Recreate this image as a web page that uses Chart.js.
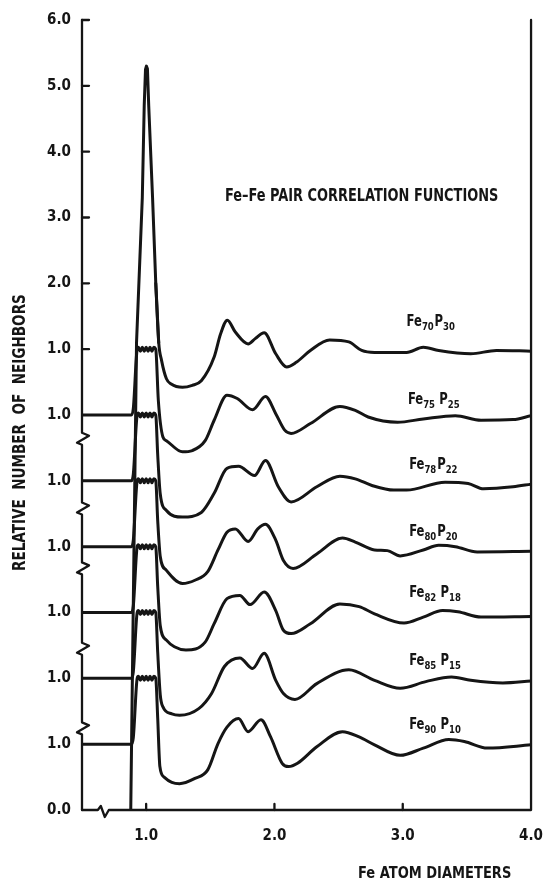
<!DOCTYPE html>
<html>
<head>
<meta charset="utf-8">
<script src="https://cdn.jsdelivr.net/npm/chart.js@4.4.1/dist/chart.umd.min.js"></script>
<style>
    html, body { margin: 0; padding: 0; background: #fff; }
    #contenedor { width: 560px; height: 882px; position: relative; }
</style>
</head>
<body>
<div id="contenedor"><canvas id="grafico"></canvas></div>
<script>
// Axis ticks: one "1.0" per curve baseline, the top curve keeps its own 2.0 .. 6.0 scale
const yTickPos = [0, 1, 2, 3, 4, 5, 6, 7, 8, 9, 10, 11, 12];
const yTickText = ["0.0", "1.0", "1.0", "1.0", "1.0", "1.0", "1.0", "1.0", "2.0", "3.0", "4.0", "5.0", "6.0"];
const xTickPos = [1, 2, 3, 4];
const xTickText = ["1.0", "2.0", "3.0", "4.0"];
const yBreaks = [1.24, 2.45, 3.67, 4.58, 5.64];
const xBreaks = [0.67];

// Alloys from bottom to top and the vertical shift of each curve
const alloys = ["Fe90P10", "Fe85P15", "Fe82P18", "Fe80P20", "Fe78P22", "Fe75P25", "Fe70P30"];
const shifts = [0, 1, 2, 3, 4, 5, 6];

// Start shared by the six lower curves: flat 1.0, steep rise, cut-off mark on the first peak
const startR = [0.5, 0.885, 0.9, 0.93, 0.94, 0.955, 0.97, 0.985, 1.0, 1.015, 1.03, 1.045, 1.06, 1.075];
const startG = [1.0, 1.0, 1.1, 2.0, 2.03, 1.97, 2.03, 1.97, 2.03, 1.97, 2.03, 1.97, 2.03, 2.0];

// Rest of each curve (r in Fe atom diameters, g relative to its own 1.0)
const rFe90P10 = [1.09, 1.107, 1.14, 1.2, 1.26, 1.38, 1.48, 1.56, 1.63, 1.72, 1.795, 1.895, 1.97, 2.06, 2.11, 2.18, 2.33, 2.53, 2.66, 2.78, 2.98, 3.16, 3.36, 3.48, 3.66, 4.0];
const gFe90P10 = [1.4, 0.66, 0.5, 0.42, 0.40, 0.48, 0.61, 1.01, 1.26, 1.39, 1.19, 1.37, 1.11, 0.71, 0.66, 0.71, 0.96, 1.19, 1.11, 0.99, 0.83, 0.94, 1.07, 1.04, 0.94, 0.99];

const rFe85P15 = [1.09, 1.11, 1.13, 1.2, 1.26, 1.41, 1.51, 1.61, 1.73, 1.83, 1.92, 2.01, 2.07, 2.16, 2.33, 2.58, 2.78, 2.98, 3.18, 3.38, 3.53, 3.78, 4.0];
const gFe85P15 = [1.4, 0.75, 0.57, 0.46, 0.44, 0.54, 0.77, 1.18, 1.31, 1.15, 1.38, 0.97, 0.77, 0.68, 0.92, 1.13, 0.97, 0.85, 0.95, 1.02, 0.97, 0.93, 0.96];

const rFe82P18 = [1.09, 1.11, 1.158, 1.22, 1.31, 1.46, 1.53, 1.63, 1.73, 1.81, 1.92, 2.01, 2.07, 2.13, 2.28, 2.51, 2.66, 2.78, 3.01, 3.16, 3.31, 3.43, 3.61, 4.0];
const gFe82P18 = [1.4, 0.8, 0.58, 0.48, 0.43, 0.55, 0.83, 1.21, 1.26, 1.12, 1.31, 1.03, 0.73, 0.68, 0.83, 1.13, 1.09, 0.98, 0.84, 0.93, 1.03, 1.01, 0.93, 0.94];

const rFe80P20 = [1.09, 1.11, 1.158, 1.283, 1.38, 1.48, 1.56, 1.63, 1.695, 1.795, 1.87, 1.93, 2.01, 2.07, 2.145, 2.33, 2.53, 2.63, 2.78, 2.88, 2.98, 3.16, 3.28, 3.41, 3.58, 4.0];
const gFe80P20 = [1.4, 0.85, 0.64, 0.44, 0.49, 0.62, 0.95, 1.22, 1.27, 1.08, 1.27, 1.34, 1.10, 0.79, 0.67, 0.89, 1.13, 1.07, 0.95, 0.94, 0.86, 0.95, 1.02, 1.0, 0.92, 0.93];

const rFe78P22 = [1.09, 1.11, 1.158, 1.283, 1.43, 1.53, 1.63, 1.72, 1.845, 1.93, 2.03, 2.13, 2.33, 2.51, 2.63, 2.76, 2.93, 3.03, 3.33, 3.51, 3.63, 3.86, 4.0];
const gFe78P22 = [1.4, 0.8, 0.55, 0.45, 0.52, 0.81, 1.19, 1.22, 1.08, 1.31, 0.91, 0.68, 0.91, 1.07, 1.03, 0.93, 0.86, 0.86, 0.98, 0.96, 0.88, 0.91, 0.95];

const rFe75P25 = [1.095, 1.13, 1.158, 1.283, 1.36, 1.46, 1.53, 1.63, 1.71, 1.83, 1.93, 2.01, 2.08, 2.13, 2.28, 2.51, 2.63, 2.73, 2.96, 3.16, 3.41, 3.61, 3.86, 4.0];
const gFe75P25 = [1.22, 0.67, 0.61, 0.44, 0.46, 0.61, 0.92, 1.30, 1.25, 1.08, 1.28, 1.02, 0.77, 0.72, 0.87, 1.13, 1.07, 0.97, 0.89, 0.94, 0.99, 0.92, 0.93, 0.99];

const rFe70P30 = [1.075, 1.098, 1.12, 1.158, 1.195, 1.283, 1.36, 1.43, 1.53, 1.58, 1.633, 1.695, 1.795, 1.85, 1.92, 2.01, 2.095, 2.17, 2.28, 2.43, 2.58, 2.68, 2.78, 3.03, 3.16, 3.28, 3.53, 3.73, 4.0];
const gFe70P30 = [2.0, 1.1, 0.83, 0.55, 0.47, 0.42, 0.45, 0.52, 0.88, 1.23, 1.44, 1.26, 1.08, 1.16, 1.25, 0.93, 0.73, 0.80, 0.98, 1.14, 1.11, 0.98, 0.95, 0.95, 1.03, 0.98, 0.93, 0.98, 0.97];

// Whole first peak of the top curve (its left flank runs down to the 0.0 line)
const rPeak = [0.88, 0.925, 0.97, 0.985, 0.995, 1.002, 1.01, 1.02, 1.05, 1.075, 1.098];
const gPeak = [-6.0, 1.1, 3.3, 4.7, 5.25, 5.3, 5.26, 4.7, 3.3, 2.0, 1.1];

const curveR = [startR.concat(rFe90P10), startR.concat(rFe85P15), startR.concat(rFe82P18), startR.concat(rFe80P20), startR.concat(rFe78P22), startR.concat(rFe75P25), rFe70P30];
const curveG = [startG.concat(gFe90P10), startG.concat(gFe85P15), startG.concat(gFe82P18), startG.concat(gFe80P20), startG.concat(gFe78P22), startG.concat(gFe75P25), gFe70P30];

// Curve names: subscripts and whether there is a gap before P
const labelSubs = [["90", "10"], ["85", "15"], ["82", "18"], ["80", "20"], ["78", "22"], ["75", "25"], ["70", "30"]];
const labelGap = [true, true, true, false, false, true, false];
// where the names sit (r, shifted g)
const labelR = [3.05, 3.05, 3.05, 3.05, 3.05, 3.04, 3.03];
const labelY = [1.29, 2.26, 3.29, 4.22, 5.24, 6.22, 7.41];

const tinta = "#151515";
const fuente = "'Liberation Sans Narrow', 'DejaVu Sans Condensed', 'Liberation Sans', sans-serif";

function textoEspaciado(ctx, texto, xIni, ancho, y) {
    const chars = [...texto];
    const anchos = chars.map(c => ctx.measureText(c).width);
    const total = anchos.reduce((a, b) => a + b, 0);
    const extra = (ancho - total) / (chars.length - 1);
    if (extra < 0) {
        ctx.save();
        ctx.translate(xIni, y);
        ctx.scale(ancho / total, 1);
        ctx.fillText(texto, 0, 0);
        ctx.restore();
        return;
    }
    let x = xIni;
    chars.forEach((c, i) => {
        ctx.fillText(c, x, y);
        x += anchos[i] + extra;
    });
}

const decoracion = {
    id: "decoracion",
    afterDraw(chart) {
        const ctx = chart.ctx;
        const xs = chart.scales.x;
        const ys = chart.scales.y;
        const izq = xs.getPixelForValue(0.5);
        const der = xs.getPixelForValue(4.0);
        const abajo = ys.getPixelForValue(0);
        const arriba = ys.getPixelForValue(12);

        ctx.save();
        ctx.strokeStyle = tinta;
        ctx.lineWidth = 2.3;
        ctx.lineJoin = "round";
        ctx.lineCap = "round";

        // Left axis with break marks
        ctx.beginPath();
        ctx.moveTo(izq, abajo);
        yBreaks.forEach(b => {
            const yc = ys.getPixelForValue(b);
            ctx.lineTo(izq, yc + 6);
            ctx.lineTo(izq - 5, yc + 4);
            ctx.lineTo(izq + 7, yc - 3);
            ctx.lineTo(izq, yc - 6);
        });
        ctx.lineTo(izq, arriba);
        ctx.stroke();

        // Bottom axis and right frame
        ctx.beginPath();
        ctx.moveTo(izq, abajo);
        xBreaks.forEach(b => {
            const xc = xs.getPixelForValue(b);
            ctx.lineTo(xc - 6, abajo);
            ctx.lineTo(xc - 3, abajo - 4);
            ctx.lineTo(xc + 1, abajo + 7);
            ctx.lineTo(xc + 5, abajo);
        });
        ctx.lineTo(der, abajo);
        ctx.lineTo(der, arriba);
        ctx.stroke();

        // Inner tick marks
        ctx.beginPath();
        yTickPos.forEach(v => {
            if (v < 7) return;
            const y = ys.getPixelForValue(v);
            ctx.moveTo(izq, y);
            ctx.lineTo(izq + 7, y);
        });
        xTickPos.forEach(v => {
            if (v >= 4) return;
            const x = xs.getPixelForValue(v);
            ctx.moveTo(x, abajo);
            ctx.lineTo(x, abajo - 6);
        });
        ctx.stroke();

        // Texts
        ctx.fillStyle = tinta;
        ctx.textBaseline = "middle";
        ctx.textAlign = "left";

        ctx.font = "bold 17px " + fuente;
        textoEspaciado(ctx, "Fe\u2013Fe PAIR CORRELATION FUNCTIONS", 225, 277, 197);

        ctx.font = "bold 16px " + fuente;
        textoEspaciado(ctx, "Fe ATOM DIAMETERS", 358, 155, 874);

        ctx.save();
        ctx.translate(21, 432);
        ctx.rotate(-Math.PI / 2);
        ctx.font = "bold 17px " + fuente;
        textoEspaciado(ctx, "RELATIVE  NUMBER  OF  NEIGHBORS", -139, 278, 0);
        ctx.restore();

        // Curve names with subscripts, squeezed like the hand lettering
        labelSubs.forEach((subs, i) => {
            const x0 = xs.getPixelForValue(labelR[i]);
            const y = ys.getPixelForValue(labelY[i]);
            ctx.save();
            ctx.translate(x0, y);
            ctx.scale(0.86, 1);
            let x = 0;
            ctx.font = "bold 15px " + fuente;
            ctx.fillText("Fe", x, 0);
            x += ctx.measureText("Fe").width;
            ctx.font = "bold 11px " + fuente;
            ctx.fillText(subs[0], x, 5);
            x += ctx.measureText(subs[0]).width + (labelGap[i] ? 5 : 1);
            ctx.font = "bold 15px " + fuente;
            ctx.fillText("P", x, 0);
            x += ctx.measureText("P").width;
            ctx.font = "bold 11px " + fuente;
            ctx.fillText(subs[1], x, 5);
            ctx.restore();
        });
        ctx.restore();
    }
};

document.addEventListener("DOMContentLoaded", () => {
    const canvas = document.getElementById("grafico");

    const datasets = alloys.map((nombre, i) => ({
        label: nombre,
        data: curveR[i].map((r, j) => ({ x: r, y: curveG[i][j] + shifts[i] })),
        borderColor: tinta,
        borderWidth: 3,
        pointRadius: 0,
        fill: false,
        cubicInterpolationMode: "monotone",
        borderCapStyle: "round",
        borderJoinStyle: "round"
    }));

    // Tall first peak, drawn with straight flanks
    datasets.push({
        label: "Fe70P30 peak",
        data: rPeak.map((r, j) => ({ x: r, y: gPeak[j] + shifts[6] })),
        borderColor: tinta,
        borderWidth: 3,
        pointRadius: 0,
        fill: false,
        tension: 0,
        borderCapStyle: "round",
        borderJoinStyle: "round"
    });

    new Chart(canvas, {
        type: "line",
        data: { datasets: datasets },
        options: {
            responsive: true,
            maintainAspectRatio: false,
            animation: false,
            layout: { padding: { top: 19, right: 12, left: 0, bottom: 0 } },
            plugins: { legend: { display: false }, tooltip: { enabled: false } },
            scales: {
                x: {
                    type: "linear",
                    min: 0.5,
                    max: 4.0,
                    grid: { display: false, drawTicks: false },
                    border: { display: false },
                    afterBuildTicks: s => { s.ticks = xTickPos.map(v => ({ value: v })); },
                    afterFit: s => { s.height = 72; },
                    ticks: {
                        color: tinta,
                        padding: 17,
                        maxRotation: 0,
                        autoSkip: false,
                        font: { family: fuente, size: 15, weight: "bold" },
                        callback: (v, i) => xTickText[i]
                    }
                },
                y: {
                    type: "linear",
                    min: 0,
                    max: 12,
                    grid: { display: false, drawTicks: false },
                    border: { display: false },
                    afterBuildTicks: s => { s.ticks = yTickPos.map(v => ({ value: v })); },
                    afterFit: s => { s.width = 82; },
                    ticks: {
                        color: tinta,
                        padding: 11,
                        autoSkip: false,
                        font: { family: fuente, size: 15, weight: "bold" },
                        callback: (v, i) => yTickText[i]
                    }
                }
            }
        },
        plugins: [decoracion]
    });
});
</script>
</body>
</html>
